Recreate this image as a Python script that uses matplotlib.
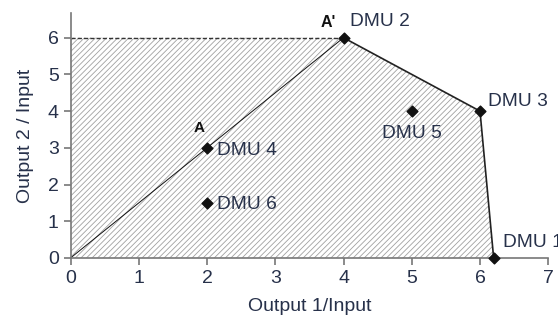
import matplotlib.pyplot as plt
from matplotlib.patches import Polygon

# DMU positions (Output 1/Input, Output 2/Input)
dmu_names = ['DMU 1', 'DMU 2', 'DMU 3', 'DMU 4', 'DMU 5', 'DMU 6']
out1 = [6.2, 4, 6, 2, 5, 2]
out2 = [0, 6, 4, 3, 4, 1.5]

# frontier (hatched region) corners
front_x = [0, 0, 4, 6, 6.2]
front_y = [0, 6, 6, 4, 0]

plt.rcParams['font.family'] = ['Liberation Sans', 'DejaVu Sans']
plt.rcParams['hatch.linewidth'] = 0.6
txt = '#27314a'

fig = plt.figure(figsize=(5.58, 3.2), dpi=100)
ax = fig.add_axes([0.1265, 0.194, 0.856, 0.765])

poly = Polygon(list(zip(front_x, front_y)), closed=True, facecolor='white',
               edgecolor='#a0a0a0', linewidth=0, hatch='//////', zorder=1)
ax.add_patch(poly)

# dashed top edge, solid frontier edges
ax.plot(front_x[1:3], front_y[1:3], color='#333333', lw=1.0, ls=(0, (3, 1.5)), zorder=2)
ax.plot(front_x[2:], front_y[2:], color='#222222', lw=1.2, zorder=2)
# ray through DMU 4 to A'
ax.plot([0, out1[1]], [0, out2[1]], color='#111111', lw=0.7, zorder=2)

ax.scatter(out1, out2, marker='D', s=30, color='#111111', zorder=4, clip_on=False)

lab_pos = {'DMU 1': (6.33, 0.43, 'left'), 'DMU 2': (4.1, 6.45, 'left'),
           'DMU 3': (6.12, 4.25, 'left'), 'DMU 4': (2.14, 2.93, 'left'),
           'DMU 5': (5.0, 3.4, 'center'), 'DMU 6': (2.14, 1.45, 'left')}
for n in dmu_names:
    x, y, ha = lab_pos[n]
    ax.text(x, y, n, fontsize=13.8, color=txt, ha=ha, va='center', zorder=5)

ax.text(3.78, 6.42, "A'", fontsize=11.5, fontweight='bold', color='#111111', ha='center', va='center')
ax.text(1.88, 3.55, 'A', fontsize=11, fontweight='bold', color='#111111', ha='center', va='center')

ax.set_xlim(0, 7)
ax.set_ylim(0, 6.67)
ax.set_xticks(range(0, 8))
ax.set_yticks(range(0, 7))
ax.spines['top'].set_visible(False)
ax.spines['right'].set_visible(False)
for s in ['left', 'bottom']:
    ax.spines[s].set_color('#777777')
    ax.spines[s].set_linewidth(1.2)
ax.tick_params(direction='out', length=5, width=1.2, color='#777777',
               labelsize=14, labelcolor=txt)
ax.set_xlabel('Output 1/Input', fontsize=14, color=txt, labelpad=8)
ax.set_ylabel('Output 2 / Input', fontsize=14, color=txt, labelpad=10)

fig.savefig('out.png', dpi=100)
